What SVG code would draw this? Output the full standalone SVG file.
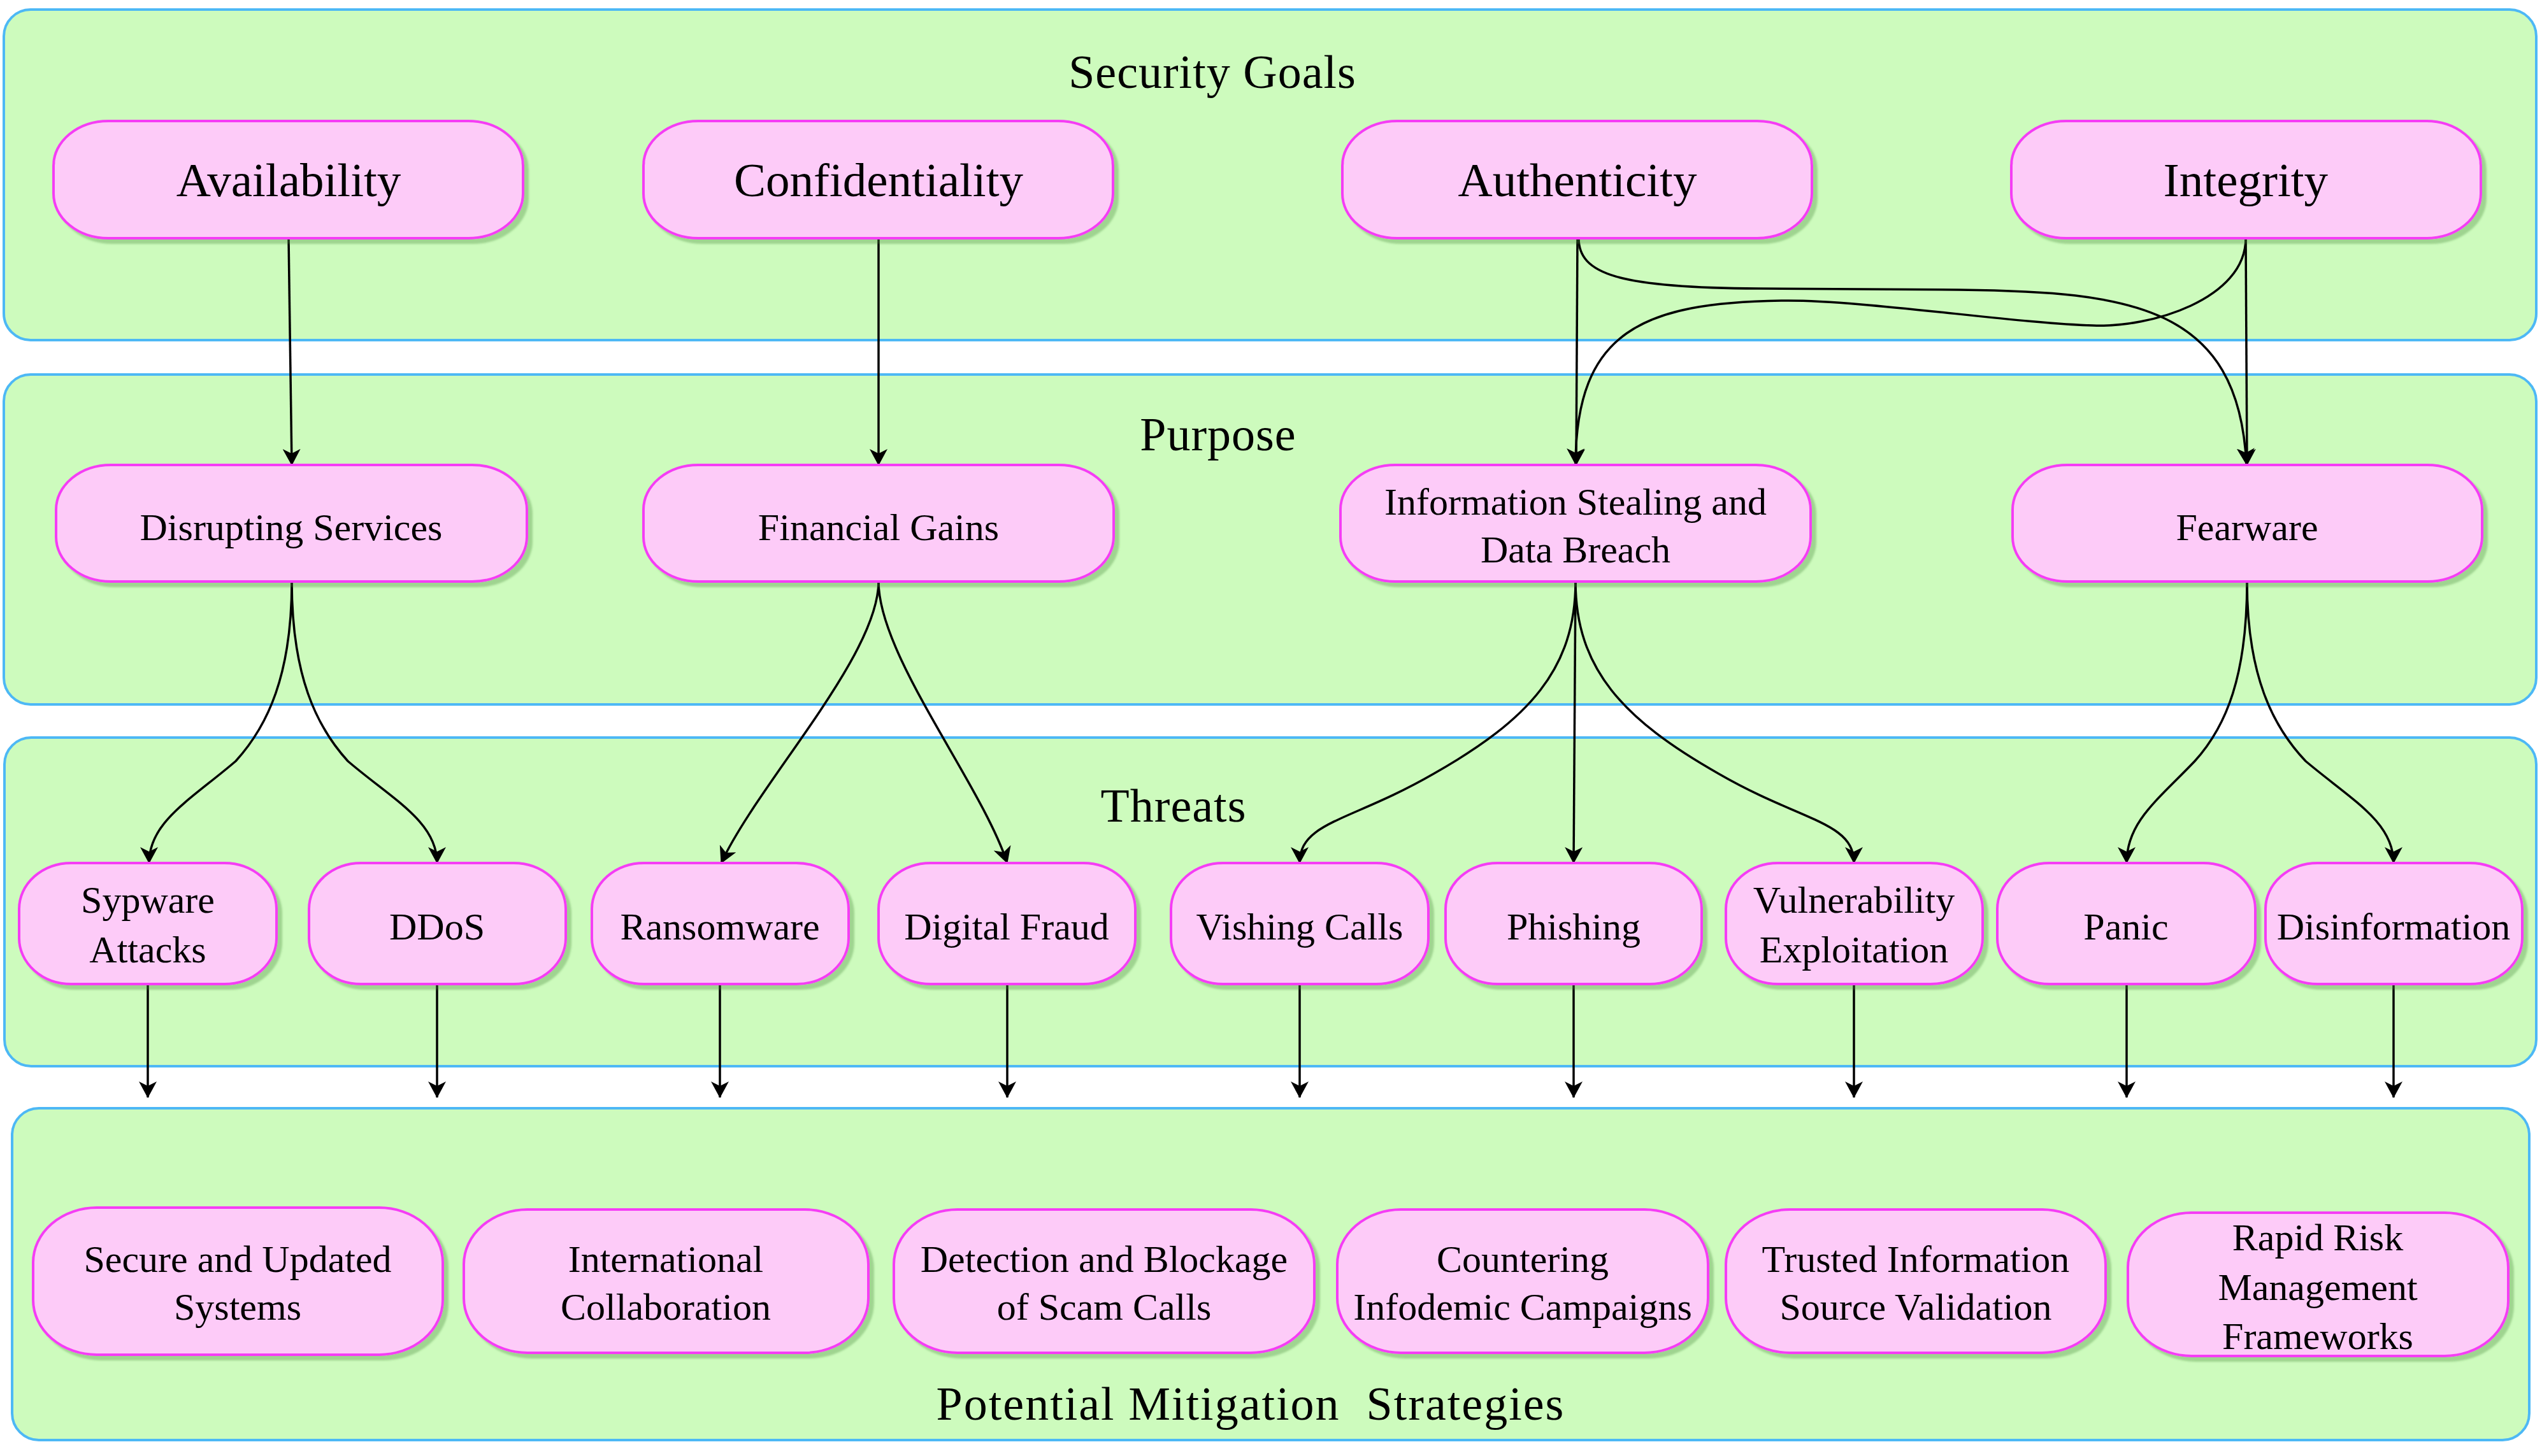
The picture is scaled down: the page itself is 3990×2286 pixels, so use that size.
<svg xmlns="http://www.w3.org/2000/svg" width="3990" height="2286" viewBox="0 0 3990 2286">
<defs>
<style>
.lane{fill:#CDFBBD;stroke:#4DB8F5;stroke-width:4}
.nd{fill:#FDCBF8;stroke:#F53CF5;stroke-width:4;filter:url(#sh)}
.t{font-family:"Liberation Serif","Times New Roman",serif;fill:#000;text-anchor:middle}
.ttl{font-size:74px;letter-spacing:1px}
.r1{font-size:75px}
.r2{font-size:60px}
.r3{font-size:60px}
.r4{font-size:60px}
.e{fill:none;stroke:#000;stroke-width:3.5;marker-end:url(#arr)}
</style>
<filter id="sh" x="-5%" y="-5%" width="115%" height="125%">
<feDropShadow dx="7" dy="7" stdDeviation="1.5" flood-color="#4a8a3e" flood-opacity="0.35"/>
</filter>
<marker id="arr" markerUnits="userSpaceOnUse" markerWidth="26" markerHeight="28" viewBox="0 0 26 28" refX="25" refY="14" orient="auto">
<path d="M0,0 L26,14 L0,28 L7,14 Z" fill="#000"/>
</marker>
</defs>
<rect width="3990" height="2286" fill="#FFFFFF"/>

<g id="lanes">
<rect id="lane-goals" class="lane" x="6" y="15" width="3975" height="519" rx="42" ry="42"/>
<rect id="lane-purpose" class="lane" x="6" y="588" width="3975" height="518" rx="42" ry="42"/>
<rect id="lane-threats" class="lane" x="7" y="1158" width="3974" height="516" rx="42" ry="42"/>
<rect id="lane-mitigation" class="lane" x="19" y="1740" width="3951" height="521" rx="42" ry="42"/>
<text class="t ttl" x="1903" y="138">Security Goals</text>
<text class="t ttl" x="1912" y="707">Purpose</text>
<text class="t ttl" x="1842" y="1290">Threats</text>
<text class="t ttl" x="1963" y="2229" xml:space="preserve" style="letter-spacing:2px">Potential Mitigation  Strategies</text>
</g>

<g id="edges">
<path class="e" d="M453,374 L458,730"/>
<path class="e" d="M1379,374 L1379,730"/>
<path class="e" d="M2476,374 L2474,730"/>
<path class="e" d="M2478,374 C2478,430 2540,452 2760,453 L3075,455 C3345,458 3514,480 3526,729"/>
<path class="e" d="M3525,374 L3527,730"/>
<path class="e" d="M3525,374 C3525,470 3375,515 3285,511 C3165,508 2918,470 2798,472 C2578,475 2474,520 2473,729"/>

<path class="e" d="M458,913 C458,1060 420,1140 370,1195 C300,1255 234,1290 234,1355"/>
<path class="e" d="M458,913 C458,1060 496,1140 546,1195 C616,1255 686,1290 686,1355"/>
<path class="e" d="M1379,913 C1379,1030 1190,1230 1132,1355"/>
<path class="e" d="M1379,913 C1379,1030 1540,1230 1581,1355"/>
<path class="e" d="M2473,913 C2473,1050 2400,1130 2250,1215 C2120,1290 2040,1290 2040,1355"/>
<path class="e" d="M2473,913 L2470,1355"/>
<path class="e" d="M2473,913 C2473,1050 2548,1130 2698,1215 C2828,1290 2910,1290 2910,1355"/>
<path class="e" d="M3527,913 C3527,1060 3495,1140 3445,1195 C3388,1255 3338,1290 3338,1355"/>
<path class="e" d="M3527,913 C3527,1060 3567,1140 3619,1195 C3690,1255 3757,1290 3757,1355"/>

<path class="e" d="M232,1545 L232,1723"/>
<path class="e" d="M686,1545 L686,1723"/>
<path class="e" d="M1130,1545 L1130,1723"/>
<path class="e" d="M1581,1545 L1581,1723"/>
<path class="e" d="M2040,1545 L2040,1723"/>
<path class="e" d="M2470,1545 L2470,1723"/>
<path class="e" d="M2910,1545 L2910,1723"/>
<path class="e" d="M3338,1545 L3338,1723"/>
<path class="e" d="M3757,1545 L3757,1723"/>
</g>

<g id="n-availability"><rect class="nd" x="84" y="190" width="737" height="184" rx="86" ry="70"/><text class="t r1" x="453" y="308">Availability</text></g>
<g id="n-confidentiality"><rect class="nd" x="1010" y="190" width="737" height="184" rx="86" ry="70"/><text class="t r1" x="1379" y="308">Confidentiality</text></g>
<g id="n-authenticity"><rect class="nd" x="2107" y="190" width="737" height="184" rx="86" ry="70"/><text class="t r1" x="2476" y="308">Authenticity</text></g>
<g id="n-integrity"><rect class="nd" x="3157" y="190" width="737" height="184" rx="86" ry="70"/><text class="t r1" x="3525" y="308">Integrity</text></g>

<g id="n-disrupting"><rect class="nd" x="88" y="730" width="739" height="183" rx="86" ry="70"/><text class="t r2" x="457" y="848">Disrupting Services</text></g>
<g id="n-financial"><rect class="nd" x="1010" y="730" width="738" height="183" rx="86" ry="70"/><text class="t r2" x="1379" y="848">Financial Gains</text></g>
<g id="n-infostealing"><rect class="nd" x="2104" y="730" width="738" height="183" rx="86" ry="70"/><text class="t r2" x="2473" y="808">Information Stealing and</text><text class="t r2" x="2473" y="883">Data Breach</text></g>
<g id="n-fearware"><rect class="nd" x="3159" y="730" width="737" height="183" rx="86" ry="70"/><text class="t r2" x="3527" y="848">Fearware</text></g>

<g id="n-spyware"><rect class="nd" x="30" y="1355" width="404" height="190" rx="82" ry="72"/><text class="t r3" x="232" y="1433">Sypware</text><text class="t r3" x="232" y="1511">Attacks</text></g>
<g id="n-ddos"><rect class="nd" x="485" y="1355" width="403" height="190" rx="82" ry="72"/><text class="t r3" x="686" y="1475">DDoS</text></g>
<g id="n-ransomware"><rect class="nd" x="929" y="1355" width="403" height="190" rx="82" ry="72"/><text class="t r3" x="1130" y="1475">Ransomware</text></g>
<g id="n-fraud"><rect class="nd" x="1379" y="1355" width="403" height="190" rx="82" ry="72"/><text class="t r3" x="1580" y="1475">Digital Fraud</text></g>
<g id="n-vishing"><rect class="nd" x="1838" y="1355" width="404" height="190" rx="82" ry="72"/><text class="t r3" x="2040" y="1475">Vishing Calls</text></g>
<g id="n-phishing"><rect class="nd" x="2269" y="1355" width="402" height="190" rx="82" ry="72"/><text class="t r3" x="2470" y="1475">Phishing</text></g>
<g id="n-vulnerability"><rect class="nd" x="2709" y="1355" width="403" height="190" rx="82" ry="72"/><text class="t r3" x="2910" y="1433">Vulnerability</text><text class="t r3" x="2910" y="1511">Exploitation</text></g>
<g id="n-panic"><rect class="nd" x="3135" y="1355" width="405" height="190" rx="82" ry="72"/><text class="t r3" x="3337" y="1475">Panic</text></g>
<g id="n-disinformation"><rect class="nd" x="3556" y="1355" width="403" height="190" rx="82" ry="72"/><text class="t r3" x="3757" y="1475">Disinformation</text></g>

<g id="n-secure"><rect class="nd" x="52" y="1896" width="643" height="231" rx="100" ry="86"/><text class="t r4" x="373" y="1997">Secure and Updated</text><text class="t r4" x="373" y="2072">Systems</text></g>
<g id="n-international"><rect class="nd" x="728" y="1899" width="635" height="225" rx="100" ry="86"/><text class="t r4" x="1045" y="1997">International</text><text class="t r4" x="1045" y="2072">Collaboration</text></g>
<g id="n-detection"><rect class="nd" x="1403" y="1899" width="660" height="225" rx="100" ry="86"/><text class="t r4" x="1733" y="1997">Detection and Blockage</text><text class="t r4" x="1733" y="2072">of Scam Calls</text></g>
<g id="n-countering"><rect class="nd" x="2099" y="1899" width="582" height="225" rx="100" ry="86"/><text class="t r4" x="2390" y="1997">Countering</text><text class="t r4" x="2390" y="2072">Infodemic Campaigns</text></g>
<g id="n-trusted"><rect class="nd" x="2709" y="1899" width="596" height="225" rx="100" ry="86"/><text class="t r4" x="3007" y="1997">Trusted Information</text><text class="t r4" x="3007" y="2072">Source Validation</text></g>
<g id="n-rapid"><rect class="nd" x="3340" y="1904" width="597" height="225" rx="100" ry="86"/><text class="t r4" x="3638" y="1963">Rapid Risk</text><text class="t r4" x="3638" y="2041">Management</text><text class="t r4" x="3638" y="2118">Frameworks</text></g>
</svg>
